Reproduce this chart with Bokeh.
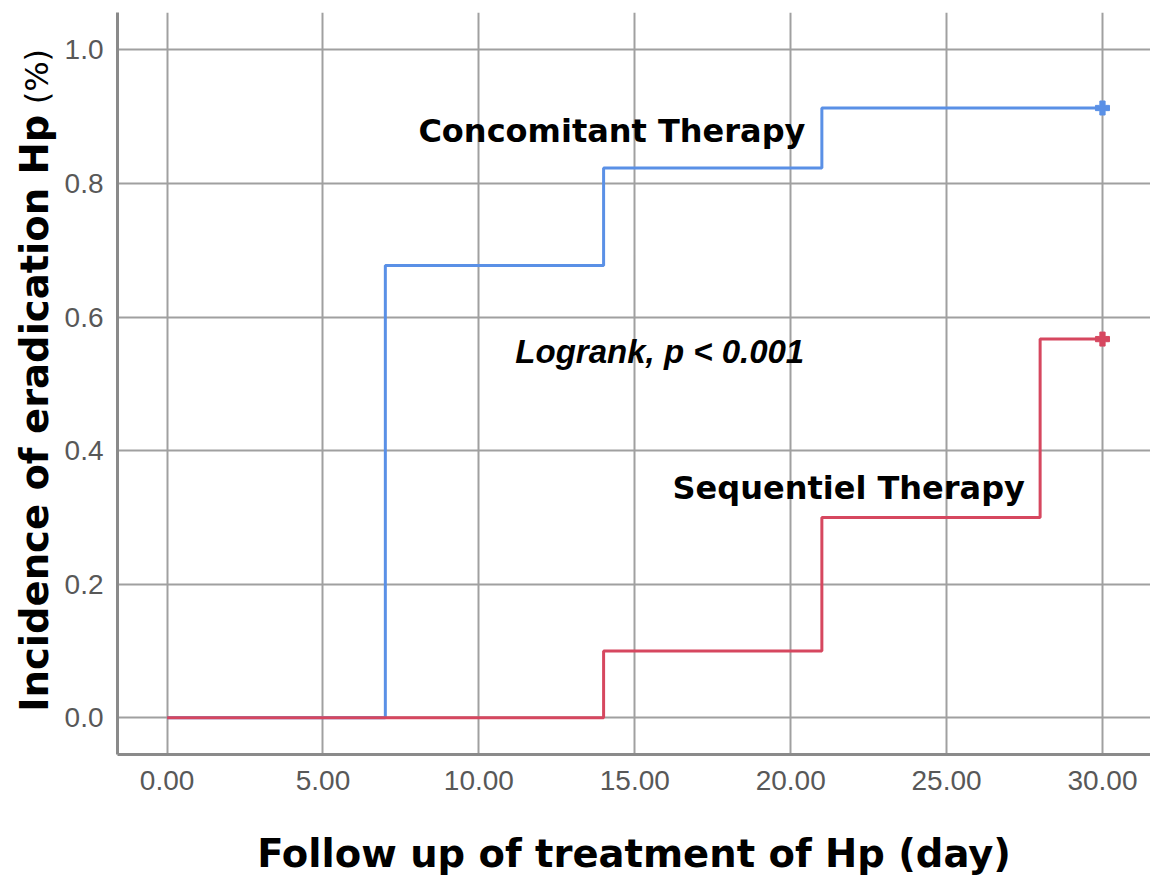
import math
from bokeh.plotting import figure
from bokeh.layouts import row
from bokeh.models import Label, Range1d, FixedTicker, PrintfTickFormatter
from bokeh.embed import file_html
from bokeh.resources import INLINE

# ---- data ----
conc_days = [0, 7, 14, 21, 30]
conc_incidence = [0.0, 0.677, 0.823, 0.913, 0.913]
seq_days = [0, 14, 21, 28, 30]
seq_incidence = [0.0, 0.100, 0.300, 0.567, 0.567]
censor_day = [30]
conc_censor = [0.913]
seq_censor = [0.567]
x_ticks = [0, 5, 10, 15, 20, 25, 30]
y_ticks = [0.0, 0.2, 0.4, 0.6, 0.8, 1.0]

BLUE = "#5a90e6"
RED = "#d6475f"
GRID = "#a0a0a0"
AXIS = "#8a8a8a"
TICK_TXT = "#585858"

TITLE_W = 58
H = 884
Y0, Y1 = -0.055, 1.056

# ---- narrow strip carrying the rotated y title ----
t = figure(width=TITLE_W, height=H, output_backend="svg", toolbar_location=None,
           x_range=Range1d(0, TITLE_W), y_range=Range1d(Y0, Y1),
           x_axis_location=None, y_axis_location=None,
           min_border_left=0, min_border_right=0, min_border_top=12, min_border_bottom=130)
t.outline_line_color = None
t.grid.visible = False
t.add_layout(Label(x=34, y=0.456, text="Incidence of eradication Hp", angle=math.pi / 2,
                   text_font="DejaVu Sans", text_font_style="bold",
                   text_font_size="38.5px", text_color="#000000",
                   text_align="center", text_baseline="middle"))
t.add_layout(Label(x=36, y=0.960, text="(%)", angle=math.pi / 2,
                   text_font="DejaVu Sans", text_font_style="normal",
                   text_font_size="32px", text_color="#000000",
                   text_align="center", text_baseline="middle"))

# ---- main plot ----
p = figure(width=1150 - TITLE_W, height=H, output_backend="svg", toolbar_location=None,
           x_range=Range1d(-1.59, 31.54), y_range=Range1d(Y0, Y1),
           min_border_left=117 - TITLE_W, min_border_right=0, min_border_top=12,
           min_border_bottom=130)
p.outline_line_color = None
p.background_fill_color = "white"
p.border_fill_color = "white"

for ax in (p.xaxis[0], p.yaxis[0]):
    ax.axis_line_color = AXIS
    ax.axis_line_width = 3
    ax.major_tick_line_color = None
    ax.minor_tick_line_color = None
    ax.major_label_text_font = "Liberation Sans"
    ax.major_label_text_font_size = "28px"
    ax.major_label_text_color = TICK_TXT

p.xaxis.ticker = FixedTicker(ticks=x_ticks)
p.yaxis.ticker = FixedTicker(ticks=y_ticks)
p.xaxis.formatter = PrintfTickFormatter(format="%.2f")
p.yaxis.formatter = PrintfTickFormatter(format="%.1f")
p.xaxis.major_label_standoff = 10
p.yaxis.major_label_standoff = 8

p.xgrid.ticker = FixedTicker(ticks=x_ticks)
p.ygrid.ticker = FixedTicker(ticks=y_ticks)
for g in (p.xgrid[0], p.ygrid[0]):
    g.grid_line_color = GRID
    g.grid_line_width = 2

p.xaxis.axis_label = "Follow up of treatment of Hp (day)"
p.xaxis.axis_label_text_font = "DejaVu Sans"
p.xaxis.axis_label_text_font_style = "bold"
p.xaxis.axis_label_text_font_size = "38.5px"
p.xaxis.axis_label_text_color = "#000000"
p.xaxis.axis_label_standoff = 38

# ---- curves ----
p.step(conc_days, conc_incidence, mode="after", line_color=BLUE, line_width=3)
p.step(seq_days, seq_incidence, mode="after", line_color=RED, line_width=3)
p.scatter(censor_day, conc_censor, marker="plus", size=14, color=BLUE)
p.scatter(censor_day, seq_censor, marker="plus", size=14, color=RED)

# ---- annotations ----
p.add_layout(Label(x=8.06, y=0.879, text="Concomitant Therapy",
                   text_font="DejaVu Sans", text_font_style="bold",
                   text_font_size="32px", text_color="#000000",
                   text_baseline="alphabetic"))
p.add_layout(Label(x=16.21, y=0.344, text="Sequentiel Therapy",
                   text_font="DejaVu Sans", text_font_style="bold",
                   text_font_size="32px", text_color="#000000",
                   text_baseline="alphabetic"))
p.add_layout(Label(x=11.17, y=0.548, text="Logrank, p < 0.001",
                   text_font="Liberation Sans", text_font_style="bold italic",
                   text_font_size="33px", text_color="#000000",
                   text_baseline="alphabetic"))

layout = row(t, p, spacing=0)
open("out.html", "w").write(file_html(layout, INLINE))
